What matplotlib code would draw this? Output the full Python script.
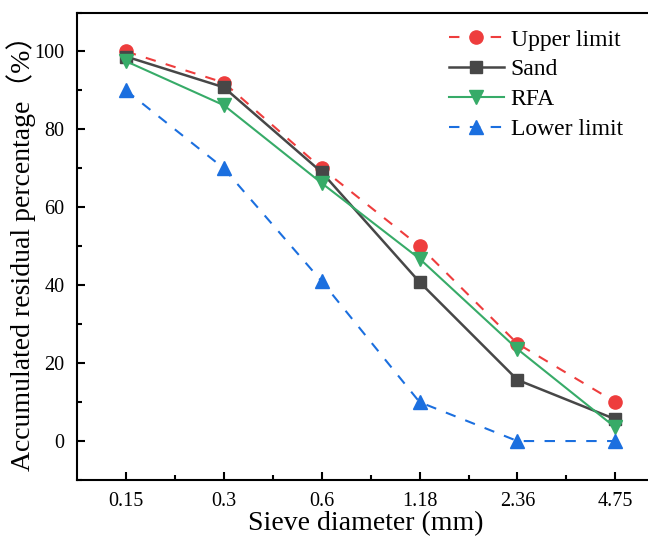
import matplotlib as mpl
mpl.use('Agg')
import matplotlib.pyplot as plt
import numpy as np
from matplotlib.ticker import MultipleLocator, FixedLocator

plt.rcParams['font.family'] = ['Liberation Serif', 'Noto Sans CJK SC']
plt.rcParams['mathtext.fontset'] = 'stix'

sieve = ['0.15', '0.3', '0.6', '1.18', '2.36', '4.75']
upper = [100, 92, 70, 50, 25, 10]
sand = [98.7, 90.8, 69, 40.8, 15.7, 5.6]
rfa = [97.5, 86.2, 66.2, 46.8, 23.6, 3.5]
lower = [90, 70, 41, 10, 0, 0]

x = np.arange(len(sieve))

fig = plt.figure(figsize=(6.48, 5.36), dpi=100)
ax = fig.add_axes([77/648, 1-480/536, 1-77/648+0.01, (480-12.5)/536])

ax.plot(x, upper, color='#ee3d3d', ls=(0, (5, 5)), lw=1.5, marker='o', ms=9.5, label='Upper limit')
ax.plot(x, sand, color='#474747', ls='-', lw=1.8, marker='s', ms=8, label='Sand')
ax.plot(x, rfa, color='#37ab68', ls='-', lw=1.5, marker='v', ms=10, label='RFA')
ax.plot(x, lower, color='#1b6fdf', ls=(0, (5, 5)), lw=1.5, marker='^', ms=10, label='Lower limit')

ax.set_xlim(-0.5, 5.4)
ax.set_ylim(-10, 110)
ax.set_xticks(x)
ax.set_xticklabels(sieve)
ax.xaxis.set_minor_locator(FixedLocator(x[:-1] + 0.5))
ax.set_yticks([0, 20, 40, 60, 80, 100])
ax.yaxis.set_minor_locator(MultipleLocator(10))
ax.tick_params(which='both', direction='in', labelsize=14.5, width=1.5)
ax.tick_params(which='major', length=6)
ax.tick_params(which='minor', length=3.5)
ax.tick_params(axis='x', pad=9)
ax.tick_params(axis='y', pad=9)
for s in ax.spines.values():
    s.set_linewidth(1.5)

ax.set_xlabel('Sieve diameter (mm)', fontsize=20, labelpad=0)
ax.set_ylabel('Accumulated residual percentage（%）', fontsize=20, labelpad=-1)

ax.legend(loc='upper right', bbox_to_anchor=(0.982, 1.01), frameon=False, fontsize=17,
          handlelength=2.3, handletextpad=0.3, labelspacing=0.35)

fig.savefig('out.png', dpi=100)
